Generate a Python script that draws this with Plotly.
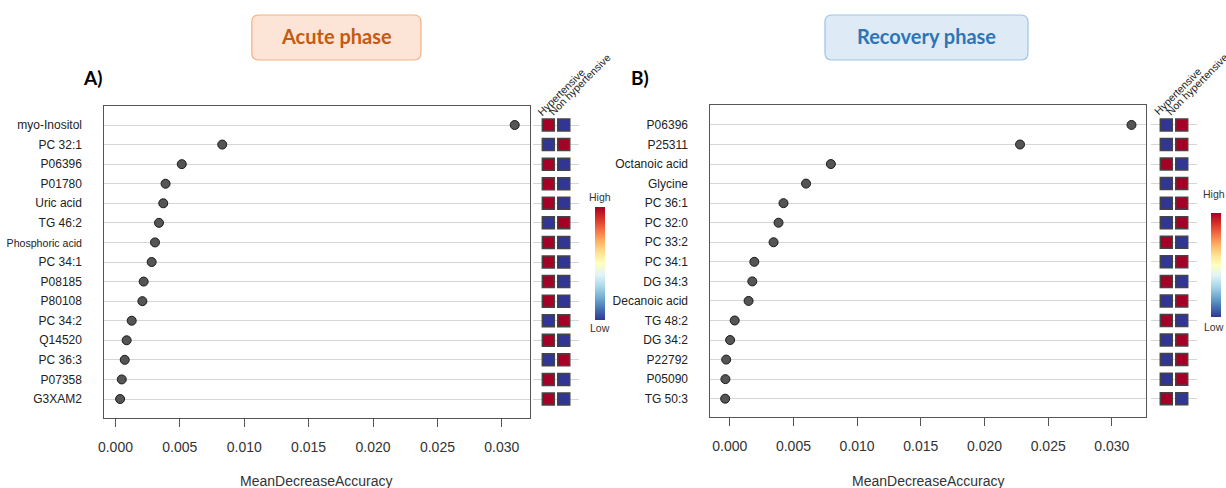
import plotly.graph_objects as go

W, H = 1226, 488

# ---------------- data ----------------
acute_features = ["myo-Inositol", "PC 32:1", "P06396", "P01780", "Uric acid", "TG 46:2",
                  "Phosphoric acid", "PC 34:1", "P08185", "P80108", "PC 34:2", "Q14520",
                  "PC 36:3", "P07358", "G3XAM2"]
acute_mda = [0.0310, 0.00829, 0.00515, 0.00389, 0.00371, 0.00338, 0.00307, 0.00281,
             0.00219, 0.00209, 0.00126, 0.00087, 0.00072, 0.00049, 0.00036]
# relative level per group: 1 = high, 0 = low
acute_hyp = [1, 0, 1, 1, 1, 0, 1, 1, 1, 1, 0, 1, 0, 1, 1]
acute_nonhyp = [0, 1, 0, 0, 0, 1, 0, 0, 0, 0, 1, 0, 1, 0, 0]

recovery_features = ["P06396", "P25311", "Octanoic acid", "Glycine", "PC 36:1", "PC 32:0",
                     "PC 33:2", "PC 34:1", "DG 34:3", "Decanoic acid", "TG 48:2", "DG 34:2",
                     "P22792", "P05090", "TG 50:3"]
recovery_mda = [0.03154, 0.02279, 0.00794, 0.00599, 0.00422, 0.00383, 0.00344, 0.00193,
                0.00177, 0.00148, 0.00039, 0.00003, -0.00028, -0.00034, -0.00036]
recovery_hyp = [0, 0, 1, 0, 0, 0, 1, 0, 1, 0, 1, 0, 0, 0, 1]
recovery_nonhyp = [1, 1, 0, 1, 1, 1, 0, 1, 0, 1, 0, 1, 1, 1, 0]

groups = ["Hypertensive", "Non hypertensive"]
x_ticks = [0.000, 0.005, 0.010, 0.015, 0.020, 0.025, 0.030]
label_sizes = {"Phosphoric acid": 10.6}

# ---------------- styling ----------------
FONT = "Liberation Sans, Arial, sans-serif"
TITLE_FONT = "Lato, Open Sans, sans-serif"
RDYLBU = ["#313695", "#4575b4", "#74add1", "#abd9e9", "#e0f3f8", "#ffffbf",
          "#fee090", "#fdae61", "#f46d43", "#d73027", "#a50026"]
colorscale = [[i / (len(RDYLBU) - 1), c] for i, c in enumerate(RDYLBU)]


def fx(p):
    return p / W


def fy(p):
    return 1 - p / H


fig = go.Figure()


def add_panel(features, mda, hyp, nonhyp, xa, ya, xh, box, xrange_, yrange_, hm_dom, cbar):
    cats = list(reversed(features))
    # dots
    fig.add_trace(go.Scatter(
        x=mda, y=features, mode="markers", xaxis=xa, yaxis=ya, showlegend=False,
        marker=dict(size=9, color="#555555", line=dict(color="#1a1a1a", width=1)),
        hoverinfo="x+y"))
    # group level squares
    hx, hy, hv = [], [], []
    for f, a, b in zip(features, hyp, nonhyp):
        hx += [1, 2]
        hy += [f, f]
        hv += [a, b]
    fig.add_trace(go.Scatter(
        x=hx, y=hy, mode="markers", xaxis=xh, yaxis=ya, showlegend=False,
        marker=dict(symbol="square", size=12, color=hv, cmin=0, cmax=1,
                    colorscale=colorscale, line=dict(color="#444444", width=1.5),
                    showscale=True,
                    colorbar=dict(x=fx(cbar[0]), xanchor="left", y=fy((cbar[1] + cbar[2]) / 2),
                                  yanchor="middle", len=cbar[2] - cbar[1], lenmode="pixels",
                                  thickness=9.5, thicknessmode="pixels", xpad=0, ypad=0,
                                  showticklabels=False, ticks="", outlinewidth=0)),
        hoverinfo="skip"))

    ticktext = [f"<span style='font-size:{label_sizes[c]}px'>{c}</span>" if c in label_sizes else c
                for c in cats]
    xkey = "xaxis" + xa[1:]
    ykey = "yaxis" + ya[1:]
    xhkey = "xaxis" + xh[1:]
    fig.update_layout(**{
        xkey: dict(domain=[fx(box[0]), fx(box[1])], range=xrange_, anchor=ya,
                   tickvals=x_ticks, tickformat=".3f", ticks="outside", ticklen=8,
                   tickcolor="#555555", tickwidth=1, ticklabelstandoff=8,
                   tickfont=dict(family=FONT, size=14, color="#333333"),
                   showline=True, mirror=True, linecolor="#555555", linewidth=1.3,
                   showgrid=False, zeroline=False),
        ykey: dict(domain=[fy(box[3]), fy(box[2])], range=yrange_, anchor=xa,
                   type="category", categoryorder="array", categoryarray=cats,
                   tickvals=cats, ticktext=ticktext, ticks="", ticklabelstandoff=18,
                   tickfont=dict(family=FONT, size=12, color="#222222"),
                   showline=True, mirror=True, linecolor="#555555", linewidth=1.3,
                   showgrid=True, gridcolor="#d6d6d6", gridwidth=1.2, zeroline=False),
        xhkey: dict(domain=[fx(hm_dom[0]), fx(hm_dom[1])], range=[0, 3], anchor=ya,
                    visible=False),
    })


add_panel(acute_features, acute_mda, acute_hyp, acute_nonhyp, "x", "y", "x2",
          box=(98, 527, 106, 418), xrange_=[-0.000927, 0.03222], yrange_=[-0.971, 14.971],
          hm_dom=(529.5, 576), cbar=(591.7, 207, 320))
add_panel(recovery_features, recovery_mda, recovery_hyp, recovery_nonhyp, "x3", "y3", "x4",
          box=(707, 1146, 105, 417), xrange_=[-0.001586, 0.03271], yrange_=[-0.936, 15.02],
          hm_dom=(1150.5, 1197), cbar=(1211, 213, 317))


def rounded_rect(x0, y0, x1, y1, r):
    # pixel coords -> paper path with quadratic corners
    pts = [
        ("M", (x0 + r, y0)), ("L", (x1 - r, y0)), ("Q", (x1, y0), (x1, y0 + r)),
        ("L", (x1, y1 - r)), ("Q", (x1, y1), (x1 - r, y1)), ("L", (x0 + r, y1)),
        ("Q", (x0, y1), (x0, y1 - r)), ("L", (x0, y0 + r)), ("Q", (x0, y0), (x0 + r, y0)),
    ]
    s = ""
    for cmd, *ps in pts:
        s += cmd + " ".join(f"{fx(px):.5f},{fy(py):.5f}" for px, py in ps) + " "
    return s + "Z"


annotations = []
shapes = []
phases = [
    ("Acute phase", (247, 15, 417, 60), "#FCE4D6", "#F4B183", "#C55A11"),
    ("Recovery phase", (823, 15, 1027, 60), "#DEEBF7", "#9DC3E6", "#2E75B6"),
]
for text, (x0, y0, x1, y1), fill, border, tcol in phases:
    shapes.append(dict(type="path", xref="paper", yref="paper",
                       path=rounded_rect(x0, y0, x1, y1, 7),
                       fillcolor=fill, line=dict(color=border, width=1.2), layer="below"))
    annotations.append(dict(x=fx((x0 + x1) / 2), y=fy((y0 + y1) / 2 - 1), xref="paper",
                            yref="paper", text=f"<b>{text}</b>", showarrow=False,
                            xanchor="center", yanchor="middle",
                            font=dict(family=TITLE_FONT, size=20, color=tcol)))

for text, x in [("A)", 87), ("B)", 637)]:
    annotations.append(dict(x=fx(x), y=fy(77), xref="paper", yref="paper", text=f"<b>{text}</b>",
                            showarrow=False, xanchor="center", yanchor="middle",
                            font=dict(family=TITLE_FONT, size=19, color="#000000")))

for x in [312, 927]:
    annotations.append(dict(x=fx(x), y=fy(481), xref="paper", yref="paper",
                            text="MeanDecreaseAccuracy", showarrow=False, xanchor="center",
                            yanchor="middle", font=dict(family=FONT, size=14, color="#333333")))

# group labels above the squares (centre of each rotated label)
for centres in [((557.5, 91.5), (577, 84.5)), ((1177.5, 91), (1197, 84))]:
    for g, (cx, cy) in zip(groups, centres):
        annotations.append(dict(x=fx(cx), y=fy(cy), xref="paper", yref="paper", text=g,
                                showarrow=False, textangle=-45, xanchor="center",
                                yanchor="middle",
                                font=dict(family=FONT, size=10.5, color="#222222")))

# High / Low legend text
for xc, yh, yl in [(597, 197, 328), (1214, 194, 327)]:
    annotations.append(dict(x=fx(xc), y=fy(yh), xref="paper", yref="paper", text="High",
                            showarrow=False, xanchor="center", yanchor="middle",
                            font=dict(family=FONT, size=10.5, color="#333333")))
    annotations.append(dict(x=fx(xc), y=fy(yl), xref="paper", yref="paper", text="Low",
                            showarrow=False, xanchor="center", yanchor="middle",
                            font=dict(family=FONT, size=10.5, color="#333333")))

fig.update_layout(width=W, height=H, margin=dict(l=0, r=0, t=0, b=0),
                  paper_bgcolor="white", plot_bgcolor="white",
                  annotations=annotations, shapes=shapes, showlegend=False)

fig.write_html("out.html")
